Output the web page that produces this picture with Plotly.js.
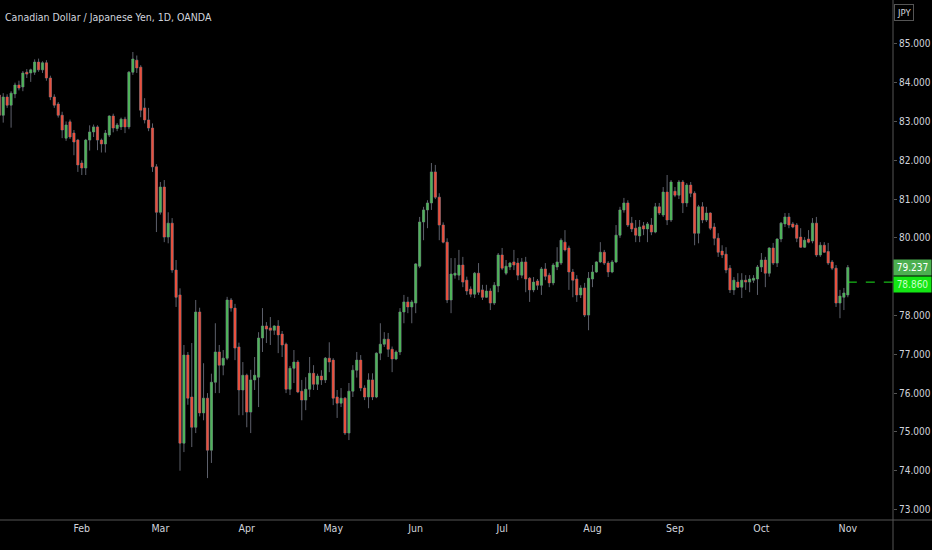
<!DOCTYPE html>
<html>
<head>
<meta charset="utf-8">
<script src="https://cdn.plot.ly/plotly-3.0.1.min.js"></script>
<style>
  html, body { margin: 0; padding: 0; background: #000; }
  #chart { width: 932px; height: 550px; }
</style>
</head>
<body>
<div id="chart"></div>
<script>
// CAD/JPY daily, OANDA (Jan 3 .. Nov 2, 2020)
const firstDay = '2020-01-03';

const opens = [
  83.68, 83.16, 83.63, 83.42, 83.71, 83.94, 83.89, 84.27, 84.25, 84.27,
  84.53, 84.33, 84.51, 84.12, 83.63, 83.45, 83.16, 82.57, 82.99, 82.70,
  82.52, 81.93, 81.80, 82.52, 82.73, 82.86, 82.52, 82.42, 82.65, 83.14,
  82.82, 82.86, 83.06, 82.86, 84.27, 84.58, 84.40, 83.35, 83.04, 82.83,
  81.83,
  80.66, 81.31, 80.02, 80.38, 79.17, 78.53, 74.71, 76.98, 75.90, 75.12,
  78.09, 75.49, 75.87, 74.53, 76.28, 77.06, 76.72, 76.90, 78.40, 78.19,
  77.19, 76.08, 76.46, 75.51, 76.34, 76.41, 77.42, 77.73, 77.68, 77.62,
  77.73, 77.52, 77.26, 76.10, 76.64, 76.80, 76.05, 75.82, 76.10, 76.51,
  76.23, 76.44, 76.34, 76.90, 76.85, 75.90, 75.74, 75.87, 74.97, 76.05,
  76.59, 76.85, 76.13, 75.90, 76.34, 75.90, 77.03, 77.26, 77.39, 77.13,
  76.88, 77.06, 78.09, 78.35, 78.22, 78.32, 79.27, 80.41, 80.72, 80.90,
  81.70, 81.05, 80.33, 79.89, 78.40, 79.04, 79.04, 79.30, 78.91, 78.68,
  78.55, 79.09, 78.66, 78.47, 78.63, 78.32, 78.76, 79.56, 79.09, 79.25,
  79.38, 79.35, 79.04, 79.38, 78.96, 78.66, 78.89, 78.78, 79.20, 79.04,
  78.84, 79.25, 79.35, 79.89, 79.74, 79.12, 78.94, 78.53, 78.71, 78.01,
  78.94, 79.12, 79.38, 79.63, 79.35, 79.12, 79.38, 80.07, 80.72, 80.90,
  80.38, 80.25, 80.05, 80.31, 80.23, 80.33, 80.15, 80.80, 80.59, 81.18,
  80.46, 81.20, 81.10, 81.44, 80.90, 81.36, 81.15, 80.12, 80.80, 80.46,
  80.64, 80.28, 79.99, 79.66, 79.58, 79.22, 78.66, 78.86, 78.73, 78.91,
  78.86, 78.91, 78.94, 79.25, 79.43, 79.09, 79.74, 79.35, 79.97, 80.36,
  80.54, 80.36, 80.33, 80.02, 79.76, 79.97, 79.92, 80.38, 79.56, 79.81,
  79.65, 79.38, 79.22, 78.32, 78.47, 78.53
];

const highs = [
  83.75, 83.73, 83.70, 83.78, 84.00, 84.05, 84.30, 84.35, 84.36, 84.60,
  84.62, 84.55, 84.58, 84.18, 83.70, 83.50, 83.25, 83.00, 83.05, 82.78,
  82.55, 82.00, 82.55, 82.90, 82.92, 82.90, 82.56, 82.78, 83.16, 83.20,
  82.96, 83.10, 83.12, 84.30, 84.79, 84.70, 84.45, 83.60, 83.35, 82.95,
  81.90,
  81.44, 81.49, 80.66, 80.51, 79.43, 78.70, 77.24, 77.06, 77.29, 78.40,
  78.20, 76.77, 76.00, 76.50, 77.80, 77.24, 77.11, 78.48, 78.45, 78.30,
  77.30, 76.80, 76.50, 76.60, 76.93, 77.57, 78.19, 77.83, 77.96, 77.75,
  77.88, 77.60, 77.30, 76.70, 77.11, 76.85, 76.34, 76.41, 76.93, 76.72,
  76.50, 76.59, 76.93, 77.31, 76.90, 76.08, 76.13, 75.90, 76.26, 76.72,
  77.06, 76.98, 76.20, 76.51, 76.51, 77.05, 77.80, 77.57, 77.55, 77.20,
  77.10, 78.19, 78.53, 78.48, 78.40, 79.35, 80.54, 80.80, 80.97, 81.93,
  81.88, 81.15, 80.40, 79.99, 79.48, 79.48, 79.69, 79.51, 79.00, 78.75,
  79.12, 79.35, 78.79, 78.79, 78.70, 78.86, 79.61, 79.74, 79.43, 79.38,
  79.69, 79.48, 79.48, 79.51, 78.99, 78.99, 78.94, 79.25, 79.35, 79.10,
  79.35, 79.76, 79.99, 80.20, 79.80, 79.20, 79.04, 78.78, 78.84, 79.12,
  79.30, 79.40, 79.89, 79.69, 79.40, 79.43, 80.33, 80.80, 81.03, 80.97,
  80.54, 80.46, 80.46, 80.41, 80.41, 80.51, 80.90, 80.90, 81.31, 81.62,
  81.49, 81.31, 81.49, 81.49, 81.41, 81.44, 81.20, 80.85, 80.92, 80.80,
  80.66, 80.38, 80.12, 79.81, 79.76, 79.30, 78.99, 79.09, 79.09, 79.04,
  79.04, 79.04, 79.30, 79.61, 79.51, 79.76, 79.87, 79.99, 80.41, 80.64,
  80.64, 80.41, 80.38, 80.25, 80.02, 80.20, 80.51, 80.54, 79.89, 79.89,
  79.87, 79.43, 79.30, 78.66, 78.71, 79.30
];

const lows = [
  83.00, 82.97, 83.35, 82.84, 83.60, 83.80, 83.78, 84.12, 84.02, 84.20,
  84.28, 84.25, 84.05, 83.55, 83.35, 83.10, 82.57, 82.50, 82.55, 82.13,
  81.70, 81.62, 81.62, 82.25, 82.60, 82.26, 82.20, 82.20, 82.60, 82.72,
  82.75, 82.78, 82.70, 82.80, 84.20, 84.25, 83.11, 82.95, 82.75, 81.70,
  80.15,
  80.60, 79.89, 79.86, 79.10, 78.22, 74.00, 74.48, 75.70, 74.61, 74.97,
  75.40, 75.30, 73.81, 74.20, 76.00, 76.00, 76.46, 76.85, 78.10, 76.85,
  75.43, 75.43, 75.12, 74.97, 76.08, 75.64, 77.06, 77.29, 77.24, 77.50,
  77.03, 76.93, 76.00, 75.95, 76.26, 76.00, 75.30, 75.56, 75.90, 76.08,
  76.08, 76.21, 76.26, 76.54, 75.69, 75.36, 75.64, 74.92, 74.79, 75.90,
  76.40, 76.05, 75.82, 75.61, 75.82, 75.87, 76.85, 77.19, 76.93, 76.54,
  76.85, 76.98, 77.80, 78.06, 77.80, 78.06, 79.22, 79.94, 80.25, 80.72,
  81.00, 79.94, 79.86, 78.32, 78.06, 78.95, 78.91, 78.73, 78.53, 78.47,
  78.45, 78.53, 78.40, 78.45, 78.14, 78.27, 78.60, 79.17, 79.04, 79.17,
  79.17, 78.91, 78.96, 78.60, 78.35, 78.60, 78.66, 78.53, 78.91, 78.73,
  78.78, 79.17, 79.30, 79.65, 78.66, 78.47, 78.35, 78.45, 77.96, 77.62,
  78.73, 79.10, 79.35, 79.30, 78.99, 79.09, 79.35, 80.00, 80.65, 80.28,
  80.15, 79.89, 79.89, 80.07, 79.89, 80.07, 80.12, 80.59, 80.54, 80.33,
  80.41, 81.05, 81.00, 80.64, 80.80, 81.05, 79.81, 79.86, 80.38, 80.41,
  80.20, 79.81, 79.51, 79.48, 79.09, 78.58, 78.53, 78.71, 78.45, 78.66,
  78.60, 78.84, 78.53, 79.12, 78.73, 79.00, 79.30, 79.25, 79.89, 80.28,
  80.25, 80.25, 79.89, 79.74, 79.74, 79.86, 79.86, 79.51, 79.51, 79.61,
  79.30, 79.17, 78.22, 77.93, 78.14, 78.47
];

const closes = [
  83.16, 83.63, 83.42, 83.73, 83.94, 83.86, 84.25, 84.22, 84.33, 84.53,
  84.33, 84.51, 84.12, 83.63, 83.42, 83.16, 82.78, 82.91, 82.60, 82.47,
  81.88, 81.80, 82.52, 82.73, 82.86, 82.52, 82.42, 82.70, 83.14, 82.83,
  82.91, 83.06, 82.86, 84.27, 84.61, 84.38, 83.29, 83.04, 82.83, 81.83,
  80.66,
  81.31, 80.02, 80.38, 79.17, 78.47, 74.71, 76.98, 75.87, 75.12, 78.09,
  75.49, 75.87, 74.53, 76.28, 77.06, 76.72, 76.90, 78.40, 78.19, 77.16,
  76.08, 76.46, 75.51, 76.34, 76.46, 77.42, 77.73, 77.65, 77.62, 77.73,
  77.50, 77.24, 76.10, 76.64, 76.80, 76.03, 75.82, 76.10, 76.51, 76.23,
  76.44, 76.34, 76.90, 76.80, 75.87, 75.74, 75.87, 74.97, 76.05, 76.59,
  76.85, 76.13, 75.90, 76.34, 75.90, 77.03, 77.26, 77.39, 77.13, 76.88,
  77.06, 78.09, 78.35, 78.22, 78.35, 79.33, 80.41, 80.72, 80.90, 81.70,
  81.05, 80.33, 79.89, 78.40, 79.07, 79.09, 79.30, 78.86, 78.63, 78.55,
  79.09, 78.60, 78.47, 78.63, 78.32, 78.78, 79.56, 79.22, 79.27, 79.35,
  79.30, 79.04, 79.38, 78.94, 78.66, 78.86, 78.78, 79.20, 79.01, 78.84,
  79.30, 79.38, 79.94, 79.69, 79.12, 78.91, 78.53, 78.71, 78.01, 78.96,
  79.12, 79.38, 79.63, 79.35, 79.12, 79.38, 80.07, 80.72, 80.90, 80.33,
  80.23, 80.07, 80.28, 80.23, 80.36, 80.15, 80.80, 80.64, 81.18, 80.46,
  81.44, 81.10, 81.44, 80.90, 81.36, 81.15, 80.12, 80.80, 80.46, 80.64,
  80.25, 79.99, 79.63, 79.56, 79.17, 78.66, 78.91, 78.73, 78.91, 78.86,
  78.94, 78.96, 79.25, 79.43, 79.09, 79.74, 79.35, 79.97, 80.38, 80.54,
  80.33, 80.28, 79.99, 79.76, 79.94, 79.89, 80.38, 79.56, 79.81, 79.63,
  79.35, 79.22, 78.32, 78.50, 78.58, 79.237
];

const monthTicks = ['2020-02-03', '2020-03-02', '2020-04-01', '2020-05-01', '2020-06-01',
                    '2020-07-01', '2020-08-03', '2020-09-01', '2020-10-01', '2020-11-02'];
const monthNames = ['Feb', 'Mar', 'Apr', 'May', 'Jun', 'Jul', 'Aug', 'Sep', 'Oct', 'Nov'];

// 79.000 sits under the price boxes in the original, so it is not listed
const priceTicks = [73, 74, 75, 76, 77, 78, 80, 81, 82, 83, 84, 85, 86];

const lastPrice = 79.237;
const markPrice = 78.860;

const upColor = '#4fb35a';
const downColor = '#e8503e';
const wickColor = '#5d606b';
const textColor = '#d1d4dc';
const narrowFont = 'Liberation Sans Narrow, DejaVu Sans Condensed, Arial Narrow, sans-serif';

// weekday dates, one per daily bar
function tradingDays(start, count) {
  const out = [];
  const d = new Date(start + 'T00:00:00Z');
  while (out.length < count) {
    const wd = d.getUTCDay();
    if (wd !== 0 && wd !== 6) out.push(d.toISOString().slice(0, 10));
    d.setUTCDate(d.getUTCDate() + 1);
  }
  return out;
}

const dates = tradingDays(firstDay, closes.length);

const traces = [
  // grey wicks underneath
  {
    type: 'candlestick',
    x: dates,
    open: opens,
    high: highs,
    low: lows,
    close: closes,
    increasing: { line: { color: wickColor, width: 1 }, fillcolor: wickColor },
    decreasing: { line: { color: wickColor, width: 1 }, fillcolor: wickColor },
    whiskerwidth: 0,
    hoverinfo: 'skip',
    showlegend: false
  },
  // coloured bodies on top (no outline, so no wick)
  {
    type: 'candlestick',
    x: dates,
    open: opens,
    high: highs,
    low: lows,
    close: closes,
    increasing: { line: { color: upColor, width: 0 }, fillcolor: upColor },
    decreasing: { line: { color: downColor, width: 0 }, fillcolor: downColor },
    whiskerwidth: 0,
    showlegend: false
  }
];

const xEnd = 227.5;

const layout = {
  width: 932,
  height: 550,
  paper_bgcolor: '#000',
  plot_bgcolor: '#000',
  margin: { l: 0, r: 39, t: 0, b: 30 },
  showlegend: false,
  boxmode: 'overlay',
  boxgap: 0.22,
  title: {
    text: 'Canadian Dollar / Japanese Yen, 1D, OANDA',
    xref: 'container', yref: 'container',
    x: 5 / 932, xanchor: 'left',
    y: 1 - 17 / 550, yanchor: 'middle',
    font: { family: narrowFont, size: 10.5, color: textColor }
  },
  xaxis: {
    type: 'category',
    range: [0.18, xEnd],
    rangeslider: { visible: false },
    tickvals: monthTicks,
    ticktext: monthNames,
    tickfont: { family: narrowFont, size: 10.5, color: textColor },
    ticks: '',
    showgrid: false,
    zeroline: false,
    showline: false,
    fixedrange: true
  },
  yaxis: {
    side: 'right',
    range: [72.73, 86.13],
    tickvals: priceTicks,
    tickformat: '.3f',
    ticks: 'outside',
    ticklen: 3,
    tickcolor: '#555',
    tickfont: { family: narrowFont, size: 10, color: textColor },
    showgrid: false,
    zeroline: false,
    showline: false,
    fixedrange: true
  },
  shapes: [
    // bottom time-axis border
    { type: 'line', xref: 'paper', yref: 'paper', x0: 0, x1: 932 / 893, y0: 0, y1: 0,
      line: { color: '#555', width: 1 } },
    // price-axis border
    { type: 'line', xref: 'paper', yref: 'paper', x0: 1, x1: 1, y0: -30 / 520, y1: 1,
      line: { color: '#555', width: 1 } },
    // dashed price line from the last bar
    { type: 'line', xref: 'x', yref: 'y', x0: dates.length - 1, x1: xEnd, y0: markPrice, y1: markPrice,
      line: { color: '#1ee61e', width: 1, dash: 'dash' } }
  ],
  annotations: [
    {
      xref: 'paper', yref: 'paper', x: 914 / 893, y: 1 - 4 / 520, yanchor: 'top',
      text: 'JPY', showarrow: false,
      font: { family: narrowFont, size: 9.5, color: textColor },
      bgcolor: '#000', bordercolor: '#555', borderwidth: 1, borderpad: 2
    },
    {
      xref: 'paper', yref: 'y', x: 1, xanchor: 'left', y: lastPrice,
      text: lastPrice.toFixed(3), showarrow: false,
      font: { family: narrowFont, size: 10, color: '#ffffff' },
      bgcolor: '#4caf50', width: 37, height: 15, borderpad: 0
    },
    {
      xref: 'paper', yref: 'y', x: 1, xanchor: 'left', y: markPrice, yshift: -2.5,
      text: markPrice.toFixed(3), showarrow: false,
      font: { family: narrowFont, size: 10, color: '#c8ffc8' },
      bgcolor: '#14e614', width: 37, height: 15, borderpad: 0
    }
  ]
};

Plotly.newPlot('chart', traces, layout, { displayModeBar: false, staticPlot: true });
</script>
</body>
</html>
